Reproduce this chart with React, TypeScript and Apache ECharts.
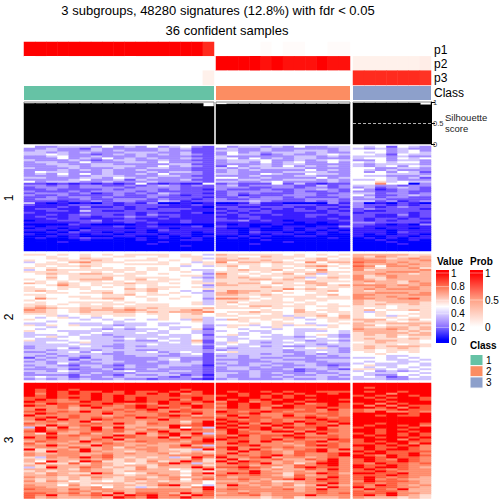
import React, { useEffect, useRef } from "react";
import * as echarts from "echarts";

const titleLines = ["3 subgroups, 48280 signatures (12.8%) with fdr < 0.05", "36 confident samples"];
const groupSizes = [17, 12, 7];
const classColors = ["#66C2A5", "#FC8D62", "#8DA0CB"];
const valueColors = ["#0000FF", "#3A1EFF", "#7050FF", "#A48CFF", "#D0C4FF", "#FFFFFF", "#FFDCD0", "#FFB39B", "#FF8C6C", "#FF5E3E", "#FF0000"];
const probColors = ["#FFFFFF", "#FFD2C2", "#FFA286", "#FF6B4B", "#FF0000"];

// cell values as digits 0-9 and a (=1.0), tenths; columns split by | per subgroup
const block1 = [
"53344435343534532|534434353344|5452543",
"33433243333343422|343343333334|4343433",
"34433343433343322|443343344434|5553453",
"44343433344433422|353434443433|5453454",
"44543323434343432|354423433454|5542544",
"33453343334333322|433333344343|4443433",
"33353435343433432|453534344333|4553545",
"43334323443343322|344453343454|3353443",
"34433533344353332|344353453353|5454553",
"33443344333334422|333343443333|4344443",
"33344344443353432|253443534343|4345354",
"43334333433443322|434344443333|5533443",
"33343434334333322|343433335343|5434333",
"35443334333434432|343333444433|5353542",
"34353534334353332|443354335443|5554443",
"33343344433344322|333433344333|5443334",
"44333443543433332|553343333534|5554342",
"33334533424333422|334433444343|4454333",
"53444334333433332|443345333343|5564544",
"22121212125212115|232225242122|5585503",
"33232332232343232|342333322423|4433233",
"23332333323333222|333223323323|3423432",
"22322223233323221|322232233432|5312332",
"32223233332322222|233333232232|3322322",
"23332312323243221|232322233223|4423323",
"32232222322332122|231222333233|5322343",
"22323323222322221|223233232223|3423322",
"23322322333232212|322333223332|3332222",
"22212232332243122|333432223232|4423123",
"41010102121300101|001311000031|3010210",
"21112222122221121|112211222112|3221212",
"11121311212211110|221122211221|3212322",
"12211222212122211|122212121212|2322221",
"11221421122222111|212121122121|2112222",
"21111222221211120|121221111122|1222212",
"11212322121322111|212112112212|2211312",
"12112212232212111|112211112111|2211212",
"11212111121121111|211211111121|2122121",
"01122231222111211|223121011112|2121222",
"11111221121211211|111111101011|3322221",
"00002100001100000|101001000001|2210103",
"10111111211211120|211010110113|2111111",
"01101011101110111|100100101101|1101101",
"11010211111021111|110100101010|1110111",
"00102110101011101|110211010101|1110211",
"10011011011101100|110101100100|1010110",
"00101000110010101|001010011000|1001101",
"01001211001010010|010100000010|0101011",
"00000100001000110|000010000000|0010010",
"00010000000010000|000000100000|0001000",
"00000000000100000|000100000000|0000100",
"00000000000000100|000000000000|0000000",
"00000000000000000|000000000000|0000000",
"00000000000000000|000000000000|0000000",
];
const block2 = [
"66565656566665654|766666565656|7777766",
"55655655665565665|665576665565|7687667",
"55665766555655564|767666656756|8776787",
"65566676566656565|776676566766|8887778",
"45657866655565546|857767658577|9887877",
"56665665566665656|666656666656|8778787",
"56566765555555454|675656567865|9858877",
"65655656565656555|565666656656|8767786",
"45766666665656544|567667565855|8677778",
"66665565656555654|666565666766|7778887",
"56766776566565553|865656757465|7787767",
"55656666665555664|766566666566|8678777",
"55756667566665543|767665674676|8668777",
"65656777567566554|666776765665|8767777",
"56565665656665564|666656667666|7877687",
"76576566676656566|767757657755|7677678",
"55686565665655553|776665666767|8887878",
"65566656565666564|666676656566|7787787",
"66565655576765556|666666867665|7878887",
"67655566566755453|687767556675|7677777",
"55665667565656544|787665655655|7788878",
"66555556675665554|776676556675|8877788",
"56556656656555654|666566666566|8778777",
"58655667755656553|887656566666|8877897",
"65555555655655554|666566565655|7677777",
"56556666565555564|675666656555|7667776",
"66565656656665564|656666566565|7676676",
"67655666566665555|665776665666|6665666",
"78766767676766667|666656565565|6565666",
"87656777787666786|555565575665|6756676",
"77656766776767778|566766576566|6465556",
"66655666665665675|656656566656|6565566",
"55645565665565665|665566466757|6564656",
"54564545555565664|556666645667|6556566",
"65555454545465474|476565654566|7775675",
"55455555455555564|556556555565|6766566",
"44554445444544554|555656654556|7667777",
"64656444344545553|466456466465|7756676",
"55455554545554453|565546555565|7667767",
"54555543434454562|554554544655|8778767",
"65544445444545543|455445544454|7777676",
"45554454445445543|554545545554|6777767",
"44454543444454452|564554545643|6767677",
"45645444344444453|445544434543|6667566",
"54455444454545453|544554445454|6766676",
"64445544343354472|545444543443|6677665",
"44554644444445462|465434454454|5676665",
"44445444344544453|454444544344|6666566",
"34444543343444442|544534334434|6767776",
"34453444344444442|434444545643|6766765",
"44344434443344443|344444344443|6656665",
"33445354344534543|564444334543|5656565",
"44344443344443452|444434434344|5565555",
"43434344334433442|343444333434|5554455",
"24343244333344332|443433443333|4454545",
"43442434333345332|333344333444|5554454",
"34344344433434342|443334443344|5455445",
"44353334333334442|343443344333|4544454",
"34432443243344431|433434334323|5644554",
"43443343343343332|344343344434|5454545",
"33342334233433332|344333423432|6645454",
"44354333453334432|333433323344|4534345",
"34443343334443332|443434334334|5444554",
"33332433243344231|433433433443|5433545",
"45442334344432342|433434344434|4542354",
"34343433433233321|343333433433|4443344",
];
const block3 = [
"aaaaaaaaaaaaaaaaa|aaaaaaaaaaaa|aaaaaaa",
"aaaaaaaaaaaaaaaaa|aaaaaaaaaaaa|aaaaaaa",
"aaaaaaaaaaaaaaaaa|aaaaaaaaaaaa|a9aaaaa",
"a9aa9aaaaaaaaa9aa|aaaaaaaaaaaa|aaaaaaa",
"a9a9a99a9a99a9a9a|a9aa9a9aa999|a9aa9aa",
"a8a9a9a99a9a9a89a|aa9aa9a9aa9a|aaa8aaa",
"a9a999a9a9999a999|9a9a9a9a9aaa|9a9aa9a",
"99a9a9a9a9a9999a9|aaaa9a9aaaaa|a9a9aa9",
"9a9899a9a9a99a8a9|a9a9a9aa9aa9|aa9aaa9",
"a9988a99aaa9a999a|8aa89aa9aaaa|aaa9aaa",
"98a9999a9898a9a89|9a9a9a9a89a9|9a8a9aa",
"a9898a9989a9899a9|8a9a98a999a9|a8a8a99",
"888978a889a9a98a9|9a9a8aa99a99|aa9a8a9",
"8a887888989a88988|8999899898a8|9889a99",
"99898a8989898a998|a989a9899898|98a8898",
"8a98888a8888988a8|999a88988998|aaaaa9a",
"a888988789889a978|8a8988a89898|aa9a99a",
"89a8989898a989899|99a99899a989|aaaaaaa",
"8a8a88a98888a8888|a98989889a99|aaaaaaa",
"78988a7888788868a|9a99898a99a9|aaaaaaa",
"98878898a8798879a|a9a8a9a8a98a|aa9aaa9",
"87a8898887788a99a|9a898a9899a8|a9aa9a8",
"4a7a78a7a7877a584|a9a9a8a99a88|9aaaa9a",
"8a8988a8987988a98|9a89a9898a98|aa9a9aa",
"9a9878989788a8888|8a988aa8a998|aa9aa9a",
"86a7797877a79a8a4|8a99888a8a88|9a9a9a9",
"88989888a9878a798|98a899a98898|a9aa9a9",
"a8a8878a8988a7a89|9a98989a9998|aa9aa9a",
"88988798a7888988a|a9989a8988a9|9aaa8a9",
"79887a8878988879a|89a8a8989a89|9a9aa99",
"97878879877877899|8a9888789898|99a9a8a",
"88a877a8878778a74|889a88879a98|aa9a9a8",
"78879878687878898|9a8898988898|9a99a98",
"a6787a7877887664a|8a8a87889a8a|9a9aa98",
"76a88a87767877676|88a898799a88|a9a9999",
"87788778787786787|8a889879889a|9aa99a8",
"87888789777778889|98989a89889a|a98a9a9",
"64878a897676746a8|a889a7887898|aa9a998",
"76777878676777796|8a78897798a8|9a98a98",
"75a76a96676867a86|a8a9878779a8|9a99a98",
"6966968765678a847|8a98a7868aa8|98a9989",
"76877787677687786|8897887989a8|a99a988",
"46a779867686777a8|99a98679a998|a9aa987",
"7777687766877567a|7898787798a8|9a98988",
"67677877677777576|888a87787898|99a9888",
"768766a865687768a|8a9a88688a97|aa99a88",
"77877877767787587|988987697898|999a988",
"87767687677678778|8788887988a8|9a98987",
"76767676678778589|8898789a8a98|9a89877",
"86875665676767675|778786678998|8a99987",
"77767677767787775|8878878788a8|9989887",
"8775865677679a754|7a8787867a87|98a9878",
"8877778576467768a|7888787787a8|a899887",
"9887978877888887a|898888978a88|8a98a77",
"88878878878888879|887888878988|9899877",
"99889797a79987a89|789878888989|999a887",
"98a7889a8a9a897a9|88897888a888|9a8a876",
"97877787a98a88a88|777767867778|8777676",
];
const blocks = [block1, block2, block3];
const blockLabels = ["1", "2", "3"];

const probNames = ["p1", "p2", "p3"];
const probG1 = [
  [1, 1, 1, 1, 1, 1, 1, 1, 1, 1, 1, 1, 1, 1, 1, 1, 0.9],
  [0, 0, 0, 0, 0, 0, 0, 0, 0, 0, 0, 0, 0, 0, 0, 0, 0],
  [0, 0, 0, 0, 0, 0, 0, 0, 0, 0, 0, 0, 0, 0, 0, 0, 0.08],
];
const probG2 = [
  [0, 0, 0, 0, 0.02, 0, 0.02, 0.02, 0, 0, 0.02, 0.02],
  [1, 1, 1, 1, 0.96, 1, 0.96, 0.96, 0.96, 1, 0.96, 0.96],
  [0, 0, 0, 0, 0, 0, 0, 0, 0, 0, 0, 0],
];
const probG3 = [
  [0, 0, 0, 0, 0, 0, 0],
  [0.08, 0.08, 0.08, 0.08, 0.08, 0.08, 0.1],
  [0.9, 0.9, 0.9, 0.9, 0.9, 0.9, 0.88],
];
const probs = [probG1, probG2, probG3];

const silG1 = [0.97, 0.97, 0.97, 0.97, 0.97, 0.97, 0.97, 0.97, 0.97, 0.97, 0.97, 0.97, 0.97, 0.97, 0.97, 0.97, 0.9];
const silG2 = [0.95, 0.96, 0.96, 0.96, 0.96, 0.96, 0.96, 0.96, 0.96, 0.96, 0.96, 0.96];
const silG3 = [0.98, 0.98, 0.98, 0.98, 0.98, 0.98, 0.94];
const silhouettes = [silG1, silG2, silG3];

const valueTicks = ["1", "0.8", "0.6", "0.4", "0.2", "0"];
const probTicks = ["1", "0.5", "0"];
const classNames = ["1", "2", "3"];

const FONT = '"Liberation Sans", Arial, sans-serif';
const colX = [[24, 214], [216, 350], [353, 431]];
const rowY = [[146, 251], [254, 380], [383, 498.5]];

function digit(c: string) {
  return parseInt(c, 11) / 10;
}

function buildOption() {
  const grids: any[] = [];
  const xAxes: any[] = [];
  const yAxes: any[] = [];
  const series: any[] = [];
  const add = (x: number[], y: number[], gridExtra: any, xa: any, ya: any) => {
    grids.push({ left: x[0], top: y[0], width: x[1] - x[0], height: y[1] - y[0], containLabel: false, ...gridExtra });
    xAxes.push({ gridIndex: grids.length - 1, type: "category", show: false, ...xa });
    yAxes.push({ gridIndex: grids.length - 1, show: false, ...ya });
    return grids.length - 1;
  };
  const indices = (n: number) => Array.from({ length: n }, (_, i) => String(i));

  const valueIdx: number[] = [];
  blocks.forEach((rows, b) => {
    groupSizes.forEach((n, g) => {
      const idx = add(colX[g], rowY[b], {}, { data: indices(n) }, { type: "category", inverse: true, data: indices(rows.length) });
      const data: number[][] = [];
      rows.forEach((r, ri) => {
        const part = r.split("|")[g];
        for (let c = 0; c < n; c++) data.push([c, ri, digit(part[c])]);
      });
      valueIdx.push(series.length);
      series.push({ type: "heatmap", xAxisIndex: idx, yAxisIndex: idx, data, progressive: 0, silent: true, emphasis: { disabled: true } });
    });
  });

  const probIdx: number[] = [];
  groupSizes.forEach((n, g) => {
    const idx = add(colX[g], [42, 85], {}, { data: indices(n) }, { type: "category", inverse: true, data: probNames });
    const data: number[][] = [];
    probs[g].forEach((r, ri) => r.forEach((v, c) => data.push([c, ri, v])));
    probIdx.push(series.length);
    series.push({ type: "heatmap", xAxisIndex: idx, yAxisIndex: idx, data, progressive: 0, silent: true, emphasis: { disabled: true } });
  });

  groupSizes.forEach((_, g) => {
    const idx = add(colX[g], [86, 100], {}, { data: [classNames[g]] }, { type: "value", min: 0, max: 1 });
    series.push({ type: "bar", xAxisIndex: idx, yAxisIndex: idx, data: [1], barWidth: "100%", silent: true, itemStyle: { color: classColors[g] } });
  });

  groupSizes.forEach((n, g) => {
    const last = g === 2;
    const idx = add(
      colX[g],
      [102, 144],
      { show: true, borderColor: "#888888", borderWidth: 1, backgroundColor: "#ffffff" },
      { data: indices(n) },
      last
        ? {
            show: true, type: "value", min: 0, max: 1, interval: 0.5, position: "right",
            axisLine: { show: true, lineStyle: { color: "#000000", width: 1 } },
            axisTick: { show: true, length: 4, lineStyle: { color: "#000000" } },
            axisLabel: { fontSize: 7.5, fontFamily: FONT, color: "#333333", margin: 2 },
            splitLine: { show: false },
          }
        : { type: "value", min: 0, max: 1 }
    );
    series.push({
      type: "bar", xAxisIndex: idx, yAxisIndex: idx, data: silhouettes[g], barWidth: "112%", barGap: "-100%", silent: true,
      itemStyle: { color: "#000000" },
      ...(last
        ? { markLine: { silent: true, symbol: "none", label: { show: false }, data: [{ yAxis: 0.5 }], lineStyle: { color: "#dddddd", type: [3, 2], width: 0.8 } } }
        : {}),
    });
  });

  const text = (t: string, x: number, y: number, size: number, extra: any = {}, el: any = {}) => ({
    type: "text", x, y, silent: true, ...el,
    style: { text: t, fontSize: size, fontFamily: FONT, fill: "#000000", align: "left", verticalAlign: "middle", ...extra },
  });
  const vGrad = (stops: [number, string][]) => ({
    type: "linear", x: 0, y: 0, x2: 0, y2: 1,
    colorStops: stops.map(([offset, color]) => ({ offset, color })),
  });

  const graphics: any[] = [
    text(titleLines[0], 218, 10, 13, { align: "center" }),
    text(titleLines[1], 227, 30, 13, { align: "center" }),
    ...probNames.map((p, i) => text(p, 434, [50, 64, 78][i], 12)),
    text("Class", 434, 92.5, 12),
    text("Silhouette", 445, 117, 9.5, { fill: "#222222" }),
    text("score", 445, 128, 9.5, { fill: "#222222" }),
    ...blockLabels.map((l, i) => text(l, 9, [198, 317, 440][i], 12, { align: "center" }, { rotation: Math.PI / 2 })),
    text("Value", 437, 261, 10, { fontWeight: "bold" }),
    text("Prob", 470, 261, 10, { fontWeight: "bold" }),
    text("Class", 470, 345, 10, { fontWeight: "bold" }),
    {
      type: "rect", silent: true, shape: { x: 436, y: 270, width: 13, height: 73 },
      style: { fill: vGrad([[0, "#FF0000"], [0.04, "#FF0000"], [0.24, "#FF7B5A"], [0.5, "#FFFFFF"], [0.75, "#9B80FF"], [0.96, "#0000FF"], [1, "#0000FF"]]) },
    },
    {
      type: "rect", silent: true, shape: { x: 470, y: 270, width: 13, height: 60 },
      style: { fill: vGrad([[0, "#FF0000"], [0.05, "#FF0000"], [0.5, "#FFA286"], [0.95, "#FFFFFF"], [1, "#FFFFFF"]]) },
    },
    ...[273, 286.6, 300.2, 313.8, 327.4].map((y) => ({
      type: "line", silent: true, shape: { x1: 436, y1: y, x2: 449, y2: y }, style: { stroke: "#ffffff", lineWidth: 0.6, opacity: 0.7 },
    })),
    ...[273, 300].map((y) => ({
      type: "line", silent: true, shape: { x1: 470, y1: y, x2: 483, y2: y }, style: { stroke: "#ffffff", lineWidth: 0.6, opacity: 0.7 },
    })),
    ...valueTicks.map((t, i) => text(t, 451, 273 + i * 13.6, 10)),
    ...probTicks.map((t, i) => text(t, 485, 273 + i * 27, 10)),
    ...classColors.map((c, i) => ({
      type: "rect", silent: true, shape: { x: 470, y: 354.5 + i * 11.2, width: 13, height: 11.2 },
      style: { fill: c, stroke: "#ffffff", lineWidth: 1 },
    })),
    ...classNames.map((c, i) => text(c, 486, 360 + i * 11.2, 10)),
  ];

  return {
    animation: false,
    backgroundColor: "#ffffff",
    grid: grids,
    xAxis: xAxes,
    yAxis: yAxes,
    series,
    visualMap: [
      { show: false, min: 0, max: 1, dimension: 2, seriesIndex: valueIdx, inRange: { color: valueColors } },
      { show: false, min: 0, max: 1, dimension: 2, seriesIndex: probIdx, inRange: { color: probColors } },
    ],
    graphic: graphics,
  };
}

export default function App() {
  const ref = useRef<HTMLDivElement>(null);
  useEffect(() => {
    const chart = echarts.init(ref.current!, undefined, { renderer: "svg" });
    chart.setOption(buildOption() as any);
    return () => chart.dispose();
  }, []);
  return <div ref={ref} style={{ position: "absolute", left: 0, top: 0, width: 504, height: 504 }} />;
}
